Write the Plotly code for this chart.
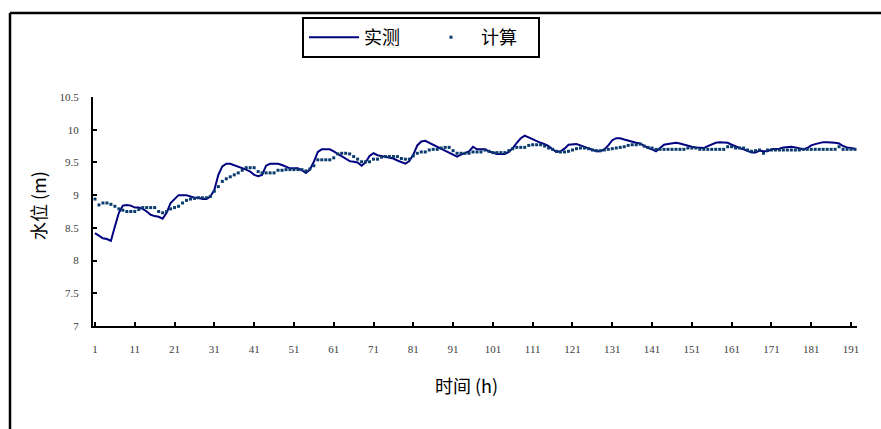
import plotly.graph_objects as go

hours = list(range(1, 193))

measured = [
    8.42, 8.38, 8.34, 8.33, 8.30, 8.52, 8.73, 8.84, 8.85, 8.84,
    8.81, 8.81, 8.79, 8.75, 8.70, 8.68, 8.67, 8.64, 8.73, 8.88,
    8.94, 9.00, 9.00, 9.00, 8.98, 8.96, 8.96, 8.94, 8.94, 8.98,
    9.08, 9.31, 9.44, 9.48, 9.48, 9.46, 9.44, 9.41, 9.39, 9.36,
    9.31, 9.29, 9.31, 9.45, 9.48, 9.48, 9.48, 9.46, 9.43, 9.41,
    9.41, 9.41, 9.38, 9.34, 9.39, 9.51, 9.66, 9.70, 9.70, 9.70,
    9.67, 9.63, 9.60, 9.56, 9.52, 9.51, 9.50, 9.45, 9.50, 9.60,
    9.64, 9.61, 9.60, 9.59, 9.58, 9.56, 9.53, 9.50, 9.48, 9.52,
    9.62, 9.76, 9.82, 9.83, 9.80, 9.77, 9.74, 9.71, 9.68, 9.65,
    9.61, 9.59, 9.62, 9.65, 9.67, 9.74, 9.70, 9.70, 9.70, 9.67,
    9.65, 9.63, 9.63, 9.63, 9.66, 9.72, 9.80, 9.87, 9.91, 9.88,
    9.86, 9.83, 9.80, 9.78, 9.75, 9.70, 9.66, 9.67, 9.71, 9.77,
    9.78, 9.78, 9.76, 9.74, 9.72, 9.69, 9.67, 9.67, 9.70, 9.76,
    9.84, 9.87, 9.87, 9.85, 9.83, 9.82, 9.80, 9.79, 9.75, 9.72,
    9.70, 9.67, 9.72, 9.77, 9.78, 9.79, 9.80, 9.79, 9.77, 9.75,
    9.74, 9.73, 9.72, 9.72, 9.75, 9.78, 9.80, 9.81, 9.81, 9.80,
    9.77, 9.74, 9.72, 9.70, 9.67, 9.65, 9.65, 9.68, 9.67, 9.67,
    9.70, 9.70, 9.71, 9.73, 9.74, 9.74, 9.73, 9.71, 9.70, 9.72,
    9.76, 9.78, 9.80, 9.81, 9.81, 9.81, 9.80, 9.79, 9.75, 9.73,
    9.72, 9.71,
]

computed = [
    8.94, 8.85, 8.88, 8.88, 8.86, 8.83, 8.79, 8.77, 8.75, 8.75,
    8.75, 8.78, 8.81, 8.81, 8.81, 8.81, 8.75, 8.73, 8.75, 8.79,
    8.81, 8.83, 8.88, 8.92, 8.94, 8.95, 8.96, 8.96, 8.96, 8.98,
    9.06, 9.13, 9.21, 9.25, 9.28, 9.31, 9.34, 9.38, 9.42, 9.42,
    9.42, 9.36, 9.34, 9.34, 9.34, 9.34, 9.38, 9.38, 9.39, 9.39,
    9.39, 9.39, 9.39, 9.37, 9.40, 9.45, 9.54, 9.54, 9.54, 9.54,
    9.57, 9.63, 9.64, 9.64, 9.63, 9.59, 9.55, 9.51, 9.51, 9.51,
    9.55, 9.55, 9.58, 9.59, 9.59, 9.59, 9.59, 9.56, 9.55, 9.55,
    9.60, 9.64, 9.66, 9.66, 9.69, 9.70, 9.70, 9.72, 9.73, 9.73,
    9.68, 9.64, 9.64, 9.64, 9.64, 9.66, 9.66, 9.66, 9.69, 9.67,
    9.65, 9.65, 9.65, 9.65, 9.68, 9.71, 9.73, 9.73, 9.73, 9.76,
    9.77, 9.77, 9.77, 9.75, 9.72, 9.70, 9.67, 9.66, 9.66, 9.67,
    9.69, 9.71, 9.72, 9.72, 9.71, 9.69, 9.68, 9.68, 9.69, 9.70,
    9.71, 9.72, 9.73, 9.74, 9.76, 9.77, 9.77, 9.78, 9.75, 9.73,
    9.72, 9.70, 9.70, 9.70, 9.70, 9.70, 9.70, 9.70, 9.70, 9.72,
    9.72, 9.72, 9.70, 9.70, 9.70, 9.70, 9.70, 9.70, 9.70, 9.74,
    9.74, 9.72, 9.72, 9.72, 9.69, 9.67, 9.68, 9.69, 9.64, 9.69,
    9.69, 9.69, 9.69, 9.69, 9.69, 9.69, 9.69, 9.69, 9.70, 9.70,
    9.70, 9.70, 9.70, 9.70, 9.70, 9.70, 9.70, 9.74, 9.70, 9.70,
    9.70, 9.70,
]

x_tickvals = list(range(1, 192, 10))
x_ticktext = [str(v) for v in x_tickvals]
y_tickvals = [7, 7.5, 8, 8.5, 9, 9.5, 10, 10.5]
y_ticktext = ["7", "7.5", "8", "8.5", "9", "9.5", "10", "10.5"]

series_names = ["实测", "计算"]

CJK = "Noto Sans CJK SC, Liberation Serif, serif"
NUM = "Liberation Serif, Noto Sans CJK SC, serif"

W, H = 881, 429
ML, MR, MT, MB = 93, 24, 97, 103
PW, PH = W - ML - MR, H - MT - MB


def px_x(p):
    return (p - ML) / PW


def px_y(p):
    return (H - MB - p) / PH


fig = go.Figure()
fig.add_trace(go.Scatter(
    x=hours, y=measured, name=series_names[0], mode="lines",
    line=dict(color="#000080", width=2),
))
fig.add_trace(go.Scatter(
    x=hours, y=computed, name=series_names[1], mode="markers",
    marker=dict(symbol="square", size=3, color="#0B3B6E", line=dict(width=0)),
))

fig.update_layout(
    width=W, height=H,
    margin=dict(l=ML, r=MR, t=MT, b=MB),
    paper_bgcolor="white", plot_bgcolor="white",
    font=dict(family=CJK, color="black"),
    showlegend=True,
    legend=dict(
        orientation="h",
        x=px_x(302), y=px_y(17), xanchor="left", yanchor="top",
        bordercolor="black", borderwidth=2, bgcolor="white",
        font=dict(family=CJK, size=18, color="black"),
        itemwidth=50, entrywidth=52,
        tracegroupgap=0,
    ),
    xaxis=dict(
        range=[0.5, 192.5], tickmode="array", tickvals=x_tickvals, ticktext=x_ticktext,
        showgrid=False, zeroline=False, showline=True, linecolor="black", linewidth=2,
        ticks="inside", ticklen=4, tickwidth=2, tickcolor="black",
        tickfont=dict(family=NUM, size=11, color="#404040"), ticklabelstandoff=12,
    ),
    yaxis=dict(
        range=[7, 10.5], tickmode="array", tickvals=y_tickvals, ticktext=y_ticktext,
        showgrid=False, zeroline=False, showline=True, linecolor="black", linewidth=2,
        ticks="inside", ticklen=4, tickwidth=2, tickcolor="black",
        tickfont=dict(family=NUM, size=11, color="#404040"), ticklabelstandoff=10,
    ),
    shapes=[
        dict(type="line", xref="paper", yref="paper", x0=px_x(10), x1=px_x(881), y0=px_y(13), y1=px_y(13),
             line=dict(color="black", width=2.5)),
        dict(type="line", xref="paper", yref="paper", x0=px_x(10), x1=px_x(10), y0=px_y(13), y1=px_y(429),
             line=dict(color="black", width=2.5)),
    ],
    annotations=[
        dict(text="时间 (h)", xref="paper", yref="paper", x=px_x(466), y=px_y(385),
             showarrow=False, xanchor="center", yanchor="middle",
             font=dict(family=CJK, size=18, color="black")),
        dict(text="水位 (m)", xref="paper", yref="paper", x=px_x(38), y=px_y(205),
             showarrow=False, xanchor="center", yanchor="middle", textangle=-90,
             font=dict(family=CJK, size=18, color="black")),
    ],
)

fig.write_html("out.html", config={"displayModeBar": False},
               post_script="document.body.style.margin='0';")
